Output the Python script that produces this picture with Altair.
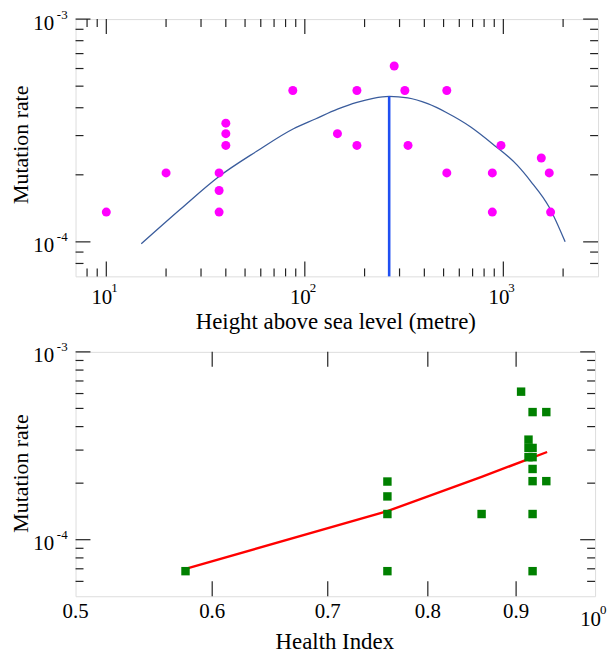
import altair as alt
import pandas as pd

FONT = "Liberation Serif"

# ---------------- top panel data ----------------
height_m = [10, 20, 37, 37, 37, 40, 40, 40, 87, 146, 183, 183, 282, 319, 331,
            519, 519, 880, 880, 973, 1553, 1703, 1730]
rate_top = [1.36e-4, 2.04e-4, 2.04e-4, 1.70e-4, 1.36e-4, 3.41e-4, 3.06e-4, 2.71e-4,
            4.78e-4, 3.06e-4, 4.78e-4, 2.71e-4, 6.16e-4, 4.78e-4, 2.71e-4,
            4.78e-4, 2.04e-4, 2.04e-4, 1.36e-4, 2.71e-4, 2.38e-4, 2.04e-4, 1.36e-4]

fit_height = [15, 23.6, 37.1, 57.2, 87.7, 113, 146, 183, 221, 266, 330, 416, 519,
              685, 880, 1174, 1368, 1703, 2048]
fit_rate = [0.98e-4, 1.40e-4, 1.97e-4, 2.55e-4, 3.22e-4, 3.56e-4, 3.94e-4, 4.23e-4,
            4.41e-4, 4.50e-4, 4.43e-4, 4.17e-4, 3.80e-4, 3.28e-4, 2.76e-4, 2.21e-4,
            1.88e-4, 1.43e-4, 1.00e-4]

peak_height = [266]
peak_top = [4.50e-4]
peak_bottom = [7e-5]

top_x_major = [10, 100, 1000]
top_x_major_exp = ["1", "2", "3"]
top_x_minor = [8, 9, 20, 30, 40, 50, 60, 70, 80, 90, 200, 300, 400, 500, 600, 700, 800, 900, 2000]
top_y_major = [1e-4, 1e-3]
top_y_major_exp = ["-4", "-3"]
top_y_minor = [8e-5, 9e-5, 2e-4, 3e-4, 4e-4, 5e-4, 6e-4, 7e-4, 8e-4, 9e-4]

# ---------------- bottom panel data ----------------
health = [0.579, 0.758, 0.758, 0.758, 0.758, 0.8595, 0.906, 0.920, 0.937, 0.915,
          0.915, 0.920, 0.915, 0.920, 0.920, 0.920, 0.937, 0.920, 0.920]
rate_bottom = [6.8e-5, 2.04e-4, 1.70e-4, 1.37e-4, 6.8e-5, 1.37e-4, 6.14e-4, 4.78e-4, 4.78e-4,
               3.41e-4, 3.08e-4, 3.08e-4, 2.75e-4, 2.75e-4, 2.38e-4, 2.05e-4, 2.05e-4,
               1.37e-4, 6.8e-5]

reg_health = [0.579, 0.758, 0.8595, 0.938]
reg_rate = [7.0e-5, 1.42e-4, 2.16e-4, 2.93e-4]

bot_x_ticks = [0.6, 0.7, 0.8, 0.9]
bot_x_dec = [0.5, 0.6, 0.7, 0.8, 0.9]
bot_x_dec_text = ["0.5", "0.6", "0.7", "0.8", "0.9"]
bot_x_pow = [1.0]
bot_x_pow_exp = ["0"]
bot_y_major = [1e-4, 1e-3]
bot_y_major_exp = ["-4", "-3"]
bot_y_minor = [6e-5, 7e-5, 8e-5, 9e-5, 2e-4, 3e-4, 4e-4, 5e-4, 6e-4, 7e-4, 8e-4, 9e-4]

titles_y = ["Mutation rate"]
title_x_top = ["Height above sea level (metre)"]
title_x_bot = ["Health Index"]

TICK = "#222222"
MAJ, MIN = 15, 8


def xticks(values, sc, h, length, top=False):
    df = pd.DataFrame({"v": values})
    if top:
        yy, yy2 = alt.value(0), alt.value(length)
    else:
        yy, yy2 = alt.value(h), alt.value(h - length)
    return alt.Chart(df).mark_rule(color=TICK, strokeWidth=1.2).encode(
        x=alt.X("v:Q", scale=sc, axis=None), y=yy, y2=yy2)


def yticks(values, sc, w, length, right=False):
    df = pd.DataFrame({"v": values})
    if right:
        xx, xx2 = alt.value(w), alt.value(w - length)
    else:
        xx, xx2 = alt.value(0), alt.value(length)
    return alt.Chart(df).mark_rule(color=TICK, strokeWidth=1.2).encode(
        y=alt.Y("v:Q", scale=sc, axis=None), x=xx, x2=xx2)


def ylabels(values, exps, sc):
    df = pd.DataFrame({"v": values, "b": ["10"] * len(values), "e": exps})
    base = alt.Chart(df).mark_text(align="right", baseline="middle", font=FONT, fontSize=21,
                                   color="black", dy=4.5).encode(
        x=alt.value(-21.5), y=alt.Y("v:Q", scale=sc, axis=None), text="b:N")
    ex = alt.Chart(df).mark_text(align="right", baseline="middle", font=FONT, fontSize=13,
                                 color="black", dy=-4.5).encode(
        x=alt.value(-8), y=alt.Y("v:Q", scale=sc, axis=None), text="e:N")
    return [base, ex]


def xpowlabels(values, exps, sc, h, off):
    df = pd.DataFrame({"v": values, "b": ["10"] * len(values), "e": exps})
    base = alt.Chart(df).mark_text(align="center", baseline="middle", font=FONT, fontSize=21,
                                   color="black", dx=-4.5).encode(
        x=alt.X("v:Q", scale=sc, axis=None), y=alt.value(h + off), text="b:N")
    ex = alt.Chart(df).mark_text(align="left", baseline="middle", font=FONT, fontSize=13,
                                 color="black", dx=5).encode(
        x=alt.X("v:Q", scale=sc, axis=None), y=alt.value(h + off - 9.5), text="e:N")
    return [base, ex]


def ytitle(h_center):
    df = pd.DataFrame({"t": titles_y})
    return alt.Chart(df).mark_text(angle=270, align="center", baseline="middle", font=FONT,
                                   fontSize=22, color="black").encode(
        x=alt.value(-55), y=alt.value(h_center), text="t:N")


def left_anchor():
    # invisible element fixing the left edge of each panel's layout box
    df = pd.DataFrame({"t": titles_y})
    return alt.Chart(df).mark_rule(opacity=0, strokeWidth=1).encode(
        x=alt.value(-67.5), y=alt.value(60), y2=alt.value(61))


def xtitle(txt, xc, yc):
    df = pd.DataFrame({"t": txt})
    return alt.Chart(df).mark_text(align="center", baseline="middle", font=FONT,
                                   fontSize=23, color="black").encode(
        x=alt.value(xc), y=alt.value(yc), text="t:N")


# ---------------- top chart ----------------
TW, TH = 526, 259
xs_t = alt.Scale(type="log", domain=[7, 3000], nice=False)
ys_t = alt.Scale(type="log", domain=[7e-5, 1e-3], nice=False)

df_pts = pd.DataFrame({"h": height_m, "r": rate_top})
df_fit = pd.DataFrame({"h": fit_height, "r": fit_rate})
df_peak = pd.DataFrame({"h": peak_height, "r": peak_top, "r2": peak_bottom})

fit = alt.Chart(df_fit).mark_line(color="#3a5c9c", strokeWidth=1.3, interpolate="monotone").encode(
    x=alt.X("h:Q", scale=xs_t, axis=None), y=alt.Y("r:Q", scale=ys_t, axis=None))
vline = alt.Chart(df_peak).mark_rule(color="#1f4ff2", strokeWidth=2.6).encode(
    x=alt.X("h:Q", scale=xs_t, axis=None), y=alt.Y("r:Q", scale=ys_t, axis=None), y2="r2:Q")
pts = alt.Chart(df_pts).mark_circle(size=82, color="#ff00ff", opacity=1).encode(
    x=alt.X("h:Q", scale=xs_t, axis=None), y=alt.Y("r:Q", scale=ys_t, axis=None))

top_layers = [
    left_anchor(),
    xticks(top_x_major, xs_t, TH, MAJ), xticks(top_x_minor, xs_t, TH, MIN),
    xticks(top_x_major, xs_t, TH, MAJ, top=True), xticks(top_x_minor, xs_t, TH, MIN, top=True),
    yticks(top_y_major, ys_t, TW, MAJ), yticks(top_y_minor, ys_t, TW, MIN),
    yticks(top_y_major, ys_t, TW, MAJ, right=True), yticks(top_y_minor, ys_t, TW, MIN, right=True),
    fit, vline, pts,
    *ylabels(top_y_major, top_y_major_exp, ys_t),
    *xpowlabels(top_x_major, top_x_major_exp, xs_t, TH, 21.5),
    ytitle(126.5),
    xtitle(title_x_top, 262, TH + 46),
]
top = alt.layer(*top_layers).properties(width=TW, height=TH)

# ---------------- bottom chart ----------------
BW, BH = 523, 246
xs_b = alt.Scale(type="log", domain=[0.5, 1.0], nice=False)
ys_b = alt.Scale(type="log", domain=[5e-5, 1e-3], nice=False)

df_sq = pd.DataFrame({"h": health, "r": rate_bottom})
df_reg = pd.DataFrame({"h": reg_health, "r": reg_rate})
df_dec = pd.DataFrame({"v": bot_x_dec, "t": bot_x_dec_text})

reg = alt.Chart(df_reg).mark_line(color="#ff0000", strokeWidth=2.4).encode(
    x=alt.X("h:Q", scale=xs_b, axis=None), y=alt.Y("r:Q", scale=ys_b, axis=None))
sq = alt.Chart(df_sq).mark_square(size=72, color="#008000", opacity=1).encode(
    x=alt.X("h:Q", scale=xs_b, axis=None), y=alt.Y("r:Q", scale=ys_b, axis=None))
dec = alt.Chart(df_dec).mark_text(align="center", baseline="middle", font=FONT, fontSize=21,
                                  color="black").encode(
    x=alt.X("v:Q", scale=xs_b, axis=None), y=alt.value(BH + 16), text="t:N")

bot_layers = [
    left_anchor(),
    xticks(bot_x_ticks, xs_b, BH, MAJ), xticks(bot_x_ticks, xs_b, BH, MAJ, top=True),
    yticks(bot_y_major, ys_b, BW, MAJ), yticks(bot_y_minor, ys_b, BW, MIN),
    yticks(bot_y_major, ys_b, BW, MAJ, right=True), yticks(bot_y_minor, ys_b, BW, MIN, right=True),
    reg, sq, dec,
    *ylabels(bot_y_major, bot_y_major_exp, ys_b),
    *xpowlabels(bot_x_pow, bot_x_pow_exp, xs_b, BH, 23.5),
    ytitle(122.5),
    xtitle(title_x_bot, 261, BH + 46.6),
]
bottom = alt.layer(*bot_layers).properties(width=BW, height=BH)

chart = alt.vconcat(top, bottom, spacing=6).properties(
    padding={"left": 0, "top": -2, "right": 0, "bottom": 0}
).configure_view(stroke="black", strokeWidth=1.8).configure(background="white")

chart.save("out.html", embed_options={"renderer": "svg", "actions": False})
